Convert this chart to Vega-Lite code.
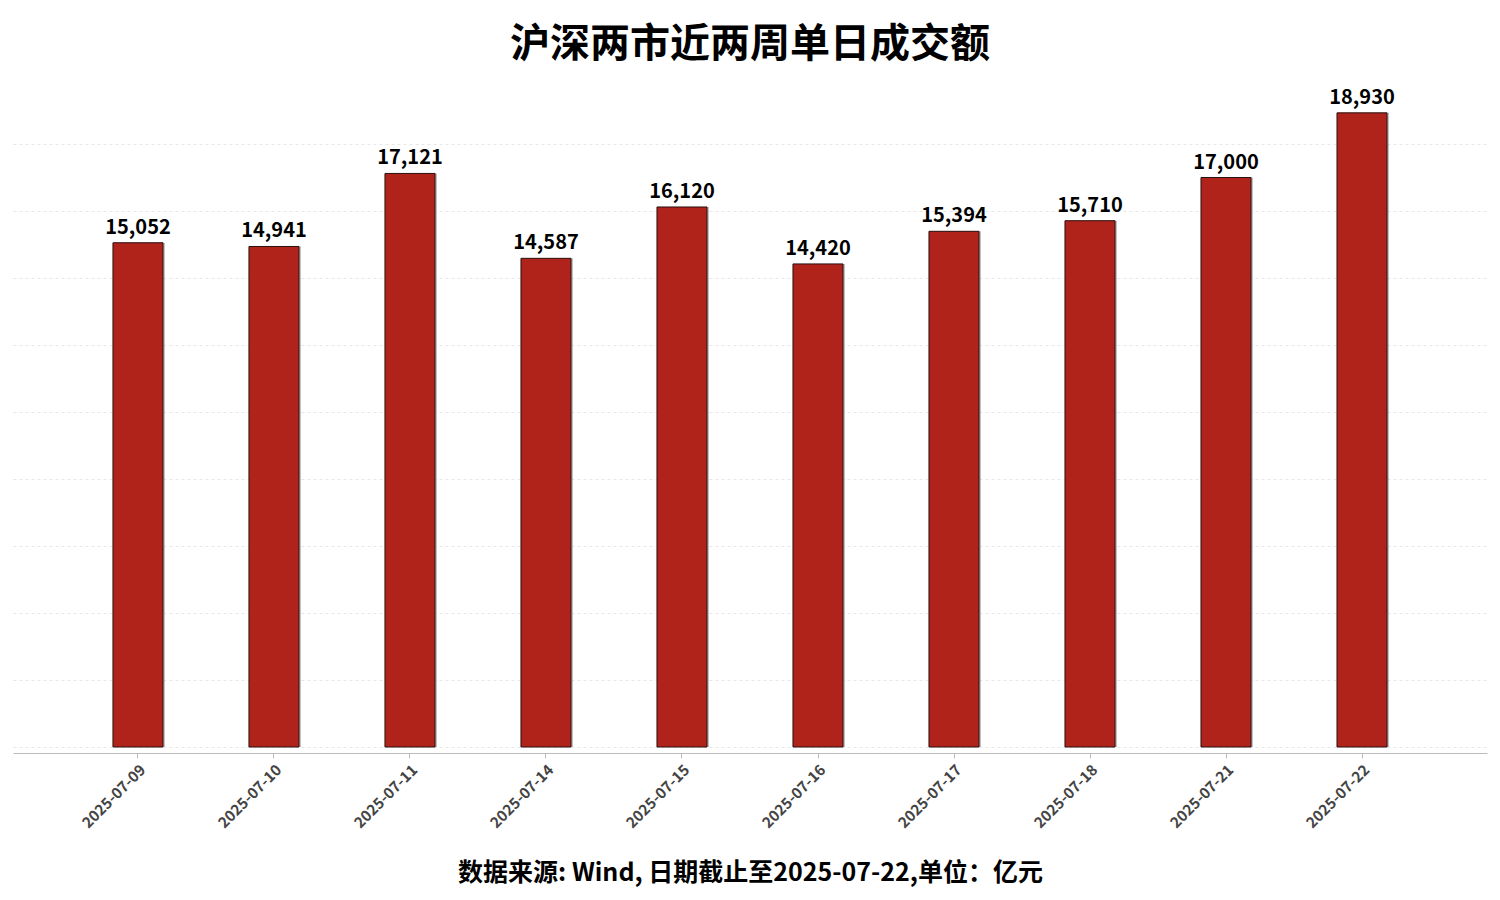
{
  "$schema": "https://vega.github.io/schema/vega-lite/v6.json",
  "width": 1474,
  "height": 670,
  "autosize": {"type": "none"},
  "padding": {"left": 13, "top": 77, "right": 13, "bottom": 153},
  "background": "white",
  "config": {
    "font": "Noto Sans CJK SC",
    "view": {"stroke": null}
  },
  "title": {
    "text": "沪深两市近两周单日成交额",
    "fontSize": 40,
    "fontWeight": "bold",
    "color": "#000000",
    "anchor": "middle",
    "offset": 12
  },
  "data": {
    "values": [
      {"date": "2025-07-09", "value": 15052},
      {"date": "2025-07-10", "value": 14941},
      {"date": "2025-07-11", "value": 17121},
      {"date": "2025-07-14", "value": 14587},
      {"date": "2025-07-15", "value": 16120},
      {"date": "2025-07-16", "value": 14420},
      {"date": "2025-07-17", "value": 15394},
      {"date": "2025-07-18", "value": 15710},
      {"date": "2025-07-21", "value": 17000},
      {"date": "2025-07-22", "value": 18930}
    ]
  },
  "encoding": {
    "x": {
      "field": "date",
      "type": "nominal",
      "sort": null,
      "scale": {"paddingInner": 0.632, "paddingOuter": 0.735},
      "axis": {
        "title": "数据来源: Wind, 日期截止至2025-07-22,单位：亿元",
        "titleFontSize": 25,
        "titleFontWeight": "bold",
        "titleColor": "#000000",
        "titlePadding": 30,
        "labelAngle": -45,
        "labelFontSize": 15,
        "labelFontWeight": "bold",
        "labelColor": "#444444",
        "labelPadding": 4,
        "tickColor": "#bbbbbb",
        "tickSize": 5,
        "domainColor": "#bbbbbb",
        "offset": 6,
        "grid": false
      }
    },
    "y": {
      "field": "value",
      "type": "quantitative",
      "scale": {"domain": [0, 20000], "nice": false},
      "axis": {
        "title": null,
        "labels": false,
        "ticks": false,
        "domain": false,
        "grid": true,
        "values": [0, 2000, 4000, 6000, 8000, 10000, 12000, 14000, 16000, 18000],
        "gridColor": "#e6e6e6",
        "gridDash": [3, 3],
        "gridWidth": 1
      }
    }
  },
  "layer": [
    {
      "mark": {"type": "bar", "color": "#999999", "opacity": 0.6, "xOffset": 2}
    },
    {
      "mark": {"type": "bar", "color": "#B0231A", "stroke": "#2a1010", "strokeWidth": 1}
    },
    {
      "mark": {"type": "text", "baseline": "bottom", "dy": -5, "fontSize": 20, "fontWeight": "bold", "color": "#000000"},
      "encoding": {
        "text": {"field": "value", "type": "quantitative", "format": ",d"}
      }
    }
  ]
}
